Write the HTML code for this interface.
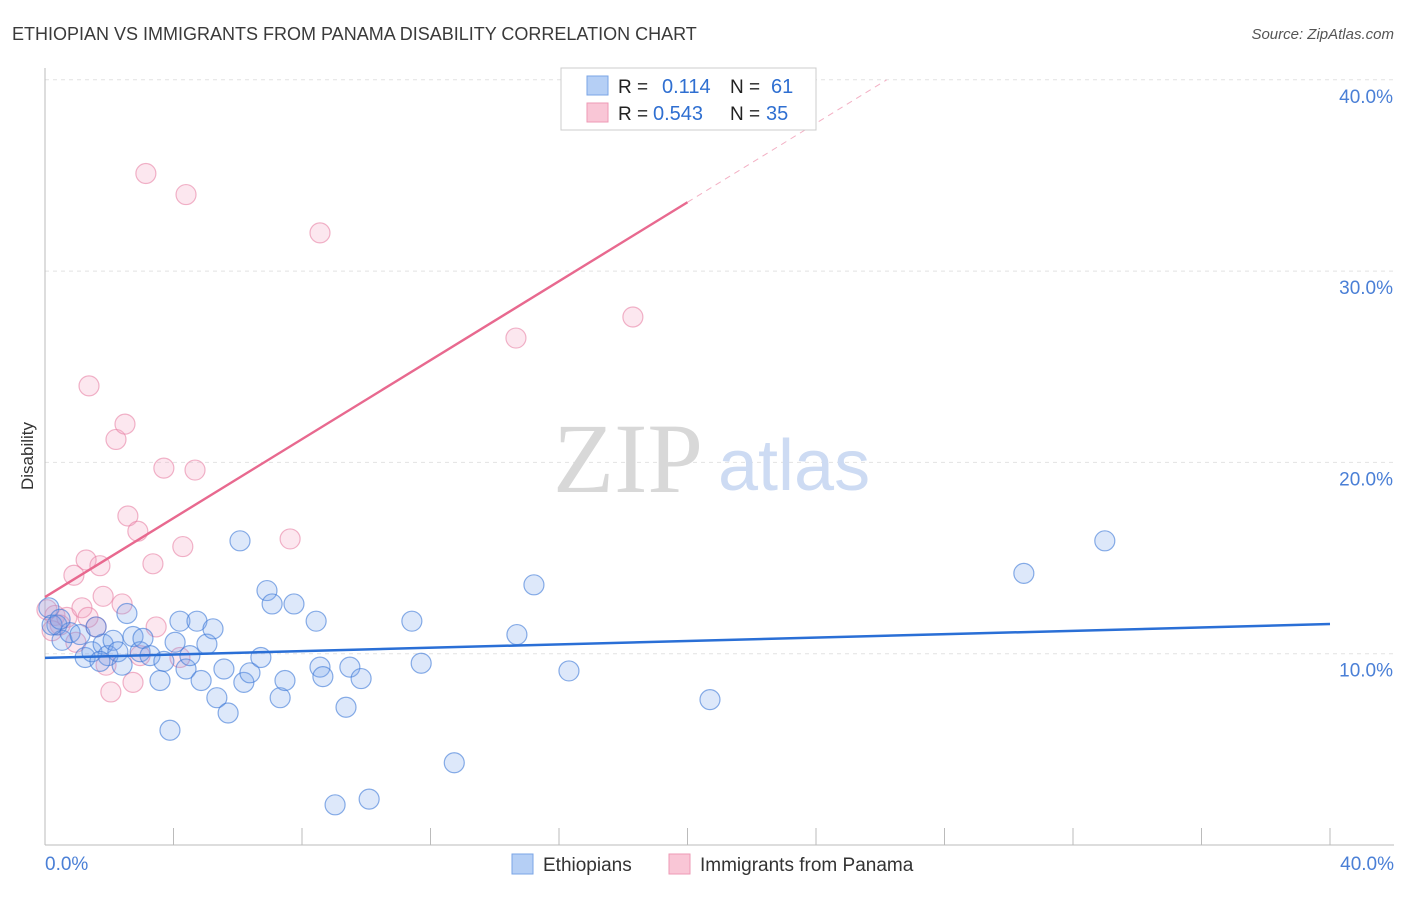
<!DOCTYPE html>
<html><head><meta charset="utf-8">
<style>
body{margin:0;background:#fff;font-family:"Liberation Sans",sans-serif;}
</style></head>
<body>
<svg id="chart" width="1406" height="892" xmlns="http://www.w3.org/2000/svg" style="font-family:'Liberation Sans',sans-serif">
<text x="12" y="40" font-size="18" fill="#3a3a3a">ETHIOPIAN VS IMMIGRANTS FROM PANAMA DISABILITY CORRELATION CHART</text>
<text x="1394" y="39" font-size="15" fill="#555" text-anchor="end" font-style="italic">Source: ZipAtlas.com</text>
<text x="33" y="456" font-size="17" fill="#333" text-anchor="middle" transform="rotate(-90 33 456)">Disability</text>
<g id="grid"></g>
<text x="553" y="492" font-size="100" fill="#d8d8d8" style="font-family:'Liberation Serif',serif">ZIP</text>
<text x="718" y="490" font-size="72" fill="#cddbf3">atlas</text>
<g id="axes"></g>
<g id="pts"></g>
<g id="lines"></g>
<g>
<rect x="561" y="68" width="255" height="62" fill="#fff" stroke="#ccc"/>
<rect x="587" y="76" width="21" height="19" fill="#b5cff5" stroke="#7aa4e6"/>
<rect x="587" y="103" width="21" height="19" fill="#f9c6d6" stroke="#ee9ab5"/>
<text x="618" y="93" font-size="19" fill="#222">R =</text>
<text x="662" y="93" font-size="20" fill="#2f6fd1">0.114</text>
<text x="730" y="93" font-size="19" fill="#222">N =</text>
<text x="771" y="93" font-size="20" fill="#2f6fd1">61</text>
<text x="618" y="120" font-size="19" fill="#222">R =</text>
<text x="653" y="120" font-size="20" fill="#2f6fd1">0.543</text>
<text x="730" y="120" font-size="19" fill="#222">N =</text>
<text x="766" y="120" font-size="20" fill="#2f6fd1">35</text>
</g>
<g>
<rect x="512" y="854" width="21" height="20" fill="#b5cff5" stroke="#7aa4e6"/>
<text x="543" y="871" font-size="19" fill="#333">Ethiopians</text>
<rect x="669" y="854" width="21" height="20" fill="#f9c6d6" stroke="#ee9ab5"/>
<text x="700" y="871" font-size="19" fill="#333">Immigrants from Panama</text>
</g>
</svg>
<script>
const blueX=[0.12,0.37,0.53,0.78,1.09,1.25,1.46,1.59,1.81,1.96,2.12,2.27,2.40,2.55,2.74,2.96,3.05,3.27,3.58,3.70,3.89,4.05,4.20,4.39,4.51,4.73,4.86,5.04,5.23,5.35,5.57,5.70,6.07,6.19,6.38,6.72,6.91,7.07,7.32,7.47,7.75,8.44,8.56,8.65,9.03,9.37,9.49,9.84,10.09,11.42,11.71,12.74,14.69,15.22,16.31,20.70,30.47,32.99,0.22,0.47,1.71];
const blueY=[12.4,11.5,10.7,11.1,11.0,9.8,10.1,11.4,10.5,9.9,10.7,10.1,9.4,12.1,10.9,10.1,10.8,9.9,8.6,9.6,6.0,10.6,11.7,9.2,9.9,11.7,8.6,10.5,11.3,7.7,9.2,6.9,15.9,8.5,9.0,9.8,13.3,12.6,7.7,8.6,12.6,11.7,9.3,8.8,2.1,7.2,9.3,8.7,2.4,11.7,9.5,4.3,11.0,13.6,9.1,7.6,14.2,15.9,11.5,11.8,9.6];
const pinkX=[0.06,0.31,0.47,0.68,0.96,1.15,1.28,1.37,1.59,1.71,1.81,1.90,2.05,2.21,2.40,2.49,2.58,2.74,2.89,2.96,3.14,3.36,3.46,3.70,4.29,4.39,4.67,7.63,8.56,14.66,18.30,0.90,1.34,4.20,0.22];
const pinkY=[12.3,12.0,11.5,11.9,10.6,12.4,14.9,24.0,11.4,14.6,13.0,9.4,8.0,21.2,12.6,22.0,17.2,8.5,16.4,9.9,35.1,14.7,11.4,19.7,15.6,34.0,19.6,16.0,32.0,26.5,27.6,14.1,11.9,9.8,11.2];
const blueTrend=[9.78,11.55];
const pinkTrend=[12.96,1.032];
const xTicks=["0.0%","40.0%"];
const yTickVals=[10,20,30,40];
const yTickLabels=["10.0%","20.0%","30.0%","40.0%"];
const X=v=>45+v*32.125, Y=v=>845-v*19.13;
const NS="http://www.w3.org/2000/svg";
function mk(tag,a,parent){const e=document.createElementNS(NS,tag);for(const k in a)e.setAttribute(k,a[k]);parent.appendChild(e);return e;}
const grid=document.getElementById('grid'),axes=document.getElementById('axes'),pts=document.getElementById('pts'),lines=document.getElementById('lines');
yTickVals.forEach((v,i)=>{
 const l=mk('line',{x1:45,x2:1394,y1:Y(v),y2:Y(v),stroke:'#e2e2e2','stroke-dasharray':'4,4'},grid);
 
 
 const t=mk('text',{x:1393,y:Y(v)+23,'font-size':19,fill:'#4a7fd6','text-anchor':'end'},axes);
 t.textContent=yTickLabels[i];
 
 
});
const ax=mk('line',{x1:45,x2:45,y1:68,y2:845,stroke:'#bbb'},axes);


const bx=mk('line',{x1:45,x2:1394,y1:845,y2:845,stroke:'#bbb'},axes);


for(let i=0;i<=10;i++){
 const tk=mk('line',{x1:X(i*4),x2:X(i*4),y1:828,y2:845,stroke:'#bbb'},axes);
 
 
}
[[0,'start',45],[1,'end',1394]].forEach(([i,an,x])=>{
 const t=mk('text',{x:x,y:870,'font-size':19,fill:'#4a7fd6','text-anchor':an},axes);
 t.textContent=xTicks[i];
 
 
});
pinkX.forEach((v,i)=>{
 const c=mk('circle',{cx:X(v),cy:Y(pinkY[i]),r:10,fill:'rgba(244,160,190,0.25)',stroke:'rgba(232,130,165,0.6)','stroke-width':1.2},pts);
 
 
});
blueX.forEach((v,i)=>{
 const c=mk('circle',{cx:X(v),cy:Y(blueY[i]),r:10,fill:'rgba(120,165,235,0.25)',stroke:'rgba(60,120,215,0.6)','stroke-width':1.2},pts);
 
 
});
const bl=mk('line',{x1:X(0),y1:Y(blueTrend[0]),x2:X(40),y2:Y(blueTrend[1]),stroke:'#2a6fd6','stroke-width':2.5},lines);


const pf=x=>pinkTrend[0]+pinkTrend[1]*x;
const pl=mk('line',{x1:X(0),y1:Y(pf(0)),x2:X(20),y2:Y(pf(20)),stroke:'#e8698f','stroke-width':2.4},lines);


const xe=(40-pinkTrend[0])/pinkTrend[1];
const pd=mk('line',{x1:X(20),y1:Y(pf(20)),x2:X(xe),y2:Y(40),stroke:'#f3b0c4','stroke-width':1,'stroke-dasharray':'6,5'},lines);


</script>
</body></html>
